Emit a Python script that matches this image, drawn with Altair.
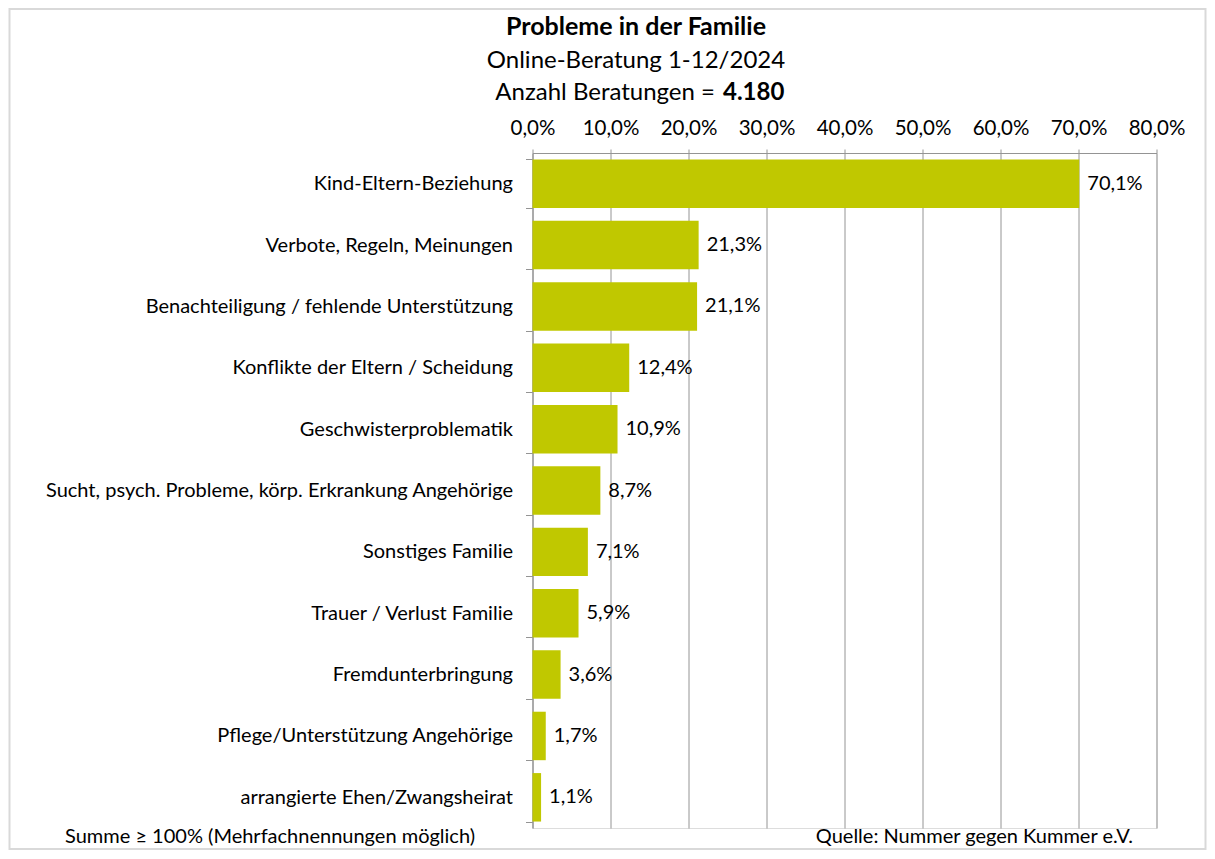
import altair as alt
import pandas as pd

categories = [
    "Kind-Eltern-Beziehung",
    "Verbote, Regeln, Meinungen",
    "Benachteiligung / fehlende Unterstützung",
    "Konflikte der Eltern / Scheidung",
    "Geschwisterproblematik",
    "Sucht, psych. Probleme, körp. Erkrankung Angehörige",
    "Sonstiges Familie",
    "Trauer / Verlust Familie",
    "Fremdunterbringung",
    "Pflege/Unterstützung Angehörige",
    "arrangierte Ehen/Zwangsheirat",
]
values = [70.1, 21.3, 21.1, 12.4, 10.9, 8.7, 7.1, 5.9, 3.6, 1.7, 1.1]
x_ticks = [0.0, 0.1, 0.2, 0.3, 0.4, 0.5, 0.6, 0.7, 0.8]

title_line1 = "Probleme in der Familie"
title_line2 = "Online-Beratung 1-12/2024"
title_line3a = "Anzahl Beratungen ="
title_line3b = "4.180"
note_left = "Summe \u2265 100% (Mehrfachnennungen möglich)"
note_right = "Quelle: Nummer gegen Kummer e.V."

FONT = "Lato"
BAR = "#C0C800"
GRID = "#949494"

df = pd.DataFrame({"Kategorie": categories, "Anteil": [v / 100 for v in values]})

y_enc = alt.Y(
    "Kategorie:N",
    sort=categories,
    scale=alt.Scale(paddingInner=0.21, paddingOuter=0.105),
    axis=alt.Axis(
        title=None,
        tickBand="extent",
        tickSize=7,
        labelPadding=13,
        labelFontSize=20,
        labelFont=FONT,
        labelColor="#000000",
        labelLimit=700,
        domainColor=GRID,
        tickColor=GRID,
        grid=False,
    ),
)
x_enc = alt.X(
    "Anteil:Q",
    scale=alt.Scale(domain=[0, 0.8], nice=False),
    axis=alt.Axis(
        orient="top",
        title=None,
        values=x_ticks,
        labelExpr="replace(format(datum.value, '.1%'), '.', ',')",
        labelOverlap=False,
        labelFlush=False,
        labelFontSize=20.5,
        labelFont=FONT,
        labelColor="#000000",
        labelPadding=11,
        tickSize=4,
        tickColor=GRID,
        domainColor=GRID,
        grid=True,
        gridColor=GRID,
        gridWidth=1,
    ),
)

base = alt.Chart(df)
bars = base.mark_bar(color=BAR).encode(y=y_enc, x=x_enc)
labels = base.transform_calculate(
    lbl="replace(format(datum.Anteil, '.1%'), '.', ',')"
).mark_text(align="left", baseline="middle", dx=8, font=FONT, fontSize=20, color="#000000").encode(
    y=alt.Y("Kategorie:N", sort=categories), x="Anteil:Q", text="lbl:N"
)

one = pd.DataFrame({"a": [0]})

def txt(s, x, y, align="center", weight="normal", size=20):
    return alt.Chart(one).mark_text(
        align=align, baseline="alphabetic", font=FONT, fontSize=size,
        fontWeight=weight, color="#000000"
    ).encode(x=alt.value(x), y=alt.value(y), text=alt.value(s))

t1 = txt(title_line1, 103.5, -118, weight="bold", size=25)
t2 = txt(title_line2, 103.5, -85, size=24)
t3a = txt(title_line3a, 182.5, -53, align="right", size=24)
t3b = txt(title_line3b, 190.5, -53, align="left", weight="bold", size=24)
n1 = txt(note_left, -467.5, 690, align="left", size=20)
n2 = txt(note_right, 600.5, 690, align="right", size=20)

frame = alt.Chart(one).mark_rect(fillOpacity=0, stroke="#d9d9d9", strokeWidth=2).encode(
    x=alt.value(-523), x2=alt.value(673), y=alt.value(-144), y2=alt.value(696)
)

chart = alt.layer(frame, bars, labels, t1, t2, t3a, t3b, n1, n2).properties(
    width=624,
    height=675,
    autosize=alt.AutoSizeParams(type="none"),
    padding={"left": 524.5, "top": 145, "right": 50.5, "bottom": 23},
).configure_view(stroke=GRID, strokeWidth=1).configure(background="#ffffff")

chart.save("out.html", embed_options={"renderer": "svg", "actions": False})
